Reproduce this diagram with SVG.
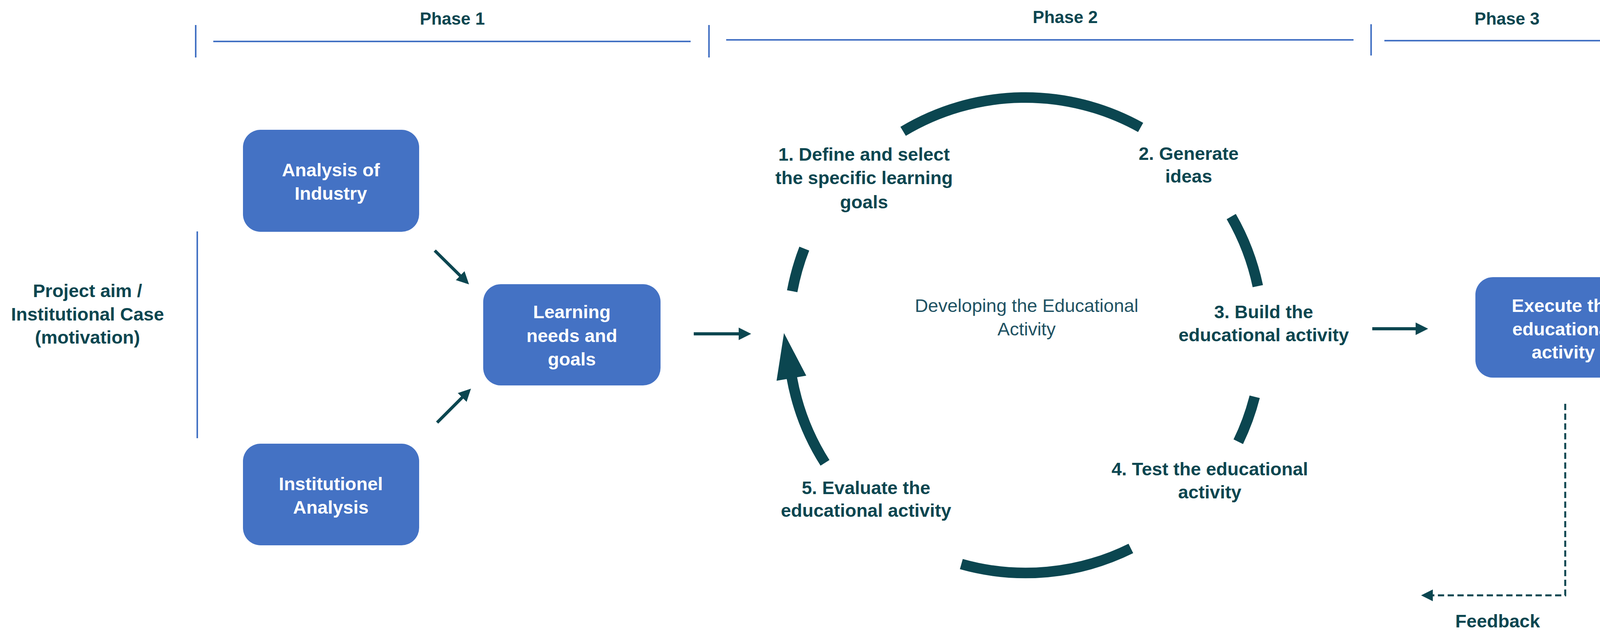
<svg xmlns="http://www.w3.org/2000/svg" width="4249" height="1627" viewBox="0 0 4249 1627">
<style>
.box{fill:#4472C4}
.bt{font-family:"Liberation Sans",Arial,sans-serif;font-weight:bold;font-size:47px;fill:#fff;text-anchor:middle;dominant-baseline:central}
.lt{font-family:"Liberation Sans",Arial,sans-serif;font-weight:bold;font-size:47px;fill:#0B4650;text-anchor:middle;dominant-baseline:central}
.ph{font-family:"Liberation Sans",Arial,sans-serif;font-weight:bold;font-size:44px;fill:#0B4650;text-anchor:middle;dominant-baseline:central}
.nt{font-family:"Liberation Sans",Arial,sans-serif;font-size:47px;fill:#1F5263;text-anchor:middle;dominant-baseline:central}
.bl{stroke:#4472C4;stroke-width:4;fill:none}
.ar{stroke:#0B4650;stroke-width:8;fill:none}
.arc{stroke:#0B4650;stroke-width:27;fill:none}
</style>
<defs>
<marker id="ah" markerWidth="4" markerHeight="4" refX="3" refY="2" orient="auto" markerUnits="strokeWidth"><path d="M0,0 L4,2 L0,4 Z" fill="#0B4650"/></marker>
<marker id="ahd" markerWidth="6" markerHeight="6" refX="4" refY="3" orient="auto" markerUnits="strokeWidth"><path d="M0,0 L6,3 L0,6 Z" fill="#0B4650"/></marker>
</defs>
<g id="phases">
<text class="ph" x="1158" y="47">Phase 1</text>
<text class="ph" x="2727" y="43">Phase 2</text>
<text class="ph" x="3858" y="47">Phase 3</text>
<path class="bl" d="M501,64 V147 M1815,64 V147 M3510,62 V142 M4211,60 V140"/>
<path class="bl" d="M546,106 H1768 M1859,102 H3465 M3544,104 H4167"/>
<path class="bl" d="M505,592 V1121"/>
</g>
<g id="project-aim">
<text class="lt" x="224" y="743">Project aim  /</text>
<text class="lt" x="224" y="803">Institutional Case</text>
<text class="lt" x="224" y="862">(motivation)</text>
</g>
<g id="analysis-industry">
<rect class="box" x="622" y="332" width="451" height="261" rx="45"/>
<text class="bt" x="847" y="434">Analysis  of</text>
<text class="bt" x="847" y="494">Industry</text>
</g>
<g id="institutionel-analysis">
<rect class="box" x="622" y="1135" width="451" height="260" rx="45"/>
<text class="bt" x="847" y="1237">Institutionel</text>
<text class="bt" x="847" y="1297">Analysis</text>
</g>
<g id="learning-needs">
<rect class="box" x="1237" y="727" width="454" height="259" rx="45"/>
<text class="bt" x="1464" y="797">Learning</text>
<text class="bt" x="1464" y="858">needs and</text>
<text class="bt" x="1464" y="918">goals</text>
</g>
<g id="execute">
<rect class="box" x="3777" y="709" width="451" height="257" rx="45"/>
<text class="bt" x="4002" y="781">Execute the</text>
<text class="bt" x="4002" y="841">educational</text>
<text class="bt" x="4002" y="900">activity</text>
</g>
<g id="cycle">
<path class="arc" d="M2312,336 A608,608 0 0 1 2920,326"/>
<path class="arc" d="M3152,554 A608,608 0 0 1 3220,732"/>
<path class="arc" d="M3212,1015 A608,608 0 0 1 3170,1130"/>
<path class="arc" d="M2895,1403 A608,608 0 0 1 2461,1443"/>
<path class="arc" d="M2112,1184 A608,608 0 0 1 2027,966"/>
<polygon points="2007,852 1988,974 2064,961" fill="#0B4650"/>
<path class="arc" d="M2059,636 A608,608 0 0 0 2028,745"/>
<text class="nt" x="2628" y="781">Developing the Educational</text>
<text class="nt" x="2628" y="841">Activity</text>
</g>
<g id="step1"><text class="lt" x="2212" y="394">1. Define and select</text><text class="lt" x="2212" y="454">the specific learning</text><text class="lt" x="2212" y="516">goals</text></g>
<g id="step2"><text class="lt" x="3043" y="392">2. Generate</text><text class="lt" x="3043" y="450">ideas</text></g>
<g id="step3"><text class="lt" x="3235" y="797">3. Build the</text><text class="lt" x="3235" y="856">educational activity</text></g>
<g id="step4"><text class="lt" x="3097" y="1199">4. Test the educational</text><text class="lt" x="3097" y="1258">activity</text></g>
<g id="step5"><text class="lt" x="2217" y="1247">5. Evaluate the</text><text class="lt" x="2217" y="1305">educational activity</text></g>
<g id="feedback"><text class="lt" x="3834" y="1588">Feedback</text></g>
<g id="connectors">
<line class="ar" x1="1113" y1="641" x2="1195" y2="722" marker-end="url(#ah)"/>
<line class="ar" x1="1119" y1="1081" x2="1200" y2="1000" marker-end="url(#ah)"/>
<line class="ar" x1="1776" y1="854" x2="1915" y2="854" marker-end="url(#ah)"/>
<line class="ar" x1="3513" y1="841" x2="3648" y2="841" marker-end="url(#ah)"/>
<path d="M4007,1033 V1523 H3648" fill="none" stroke="#0B4650" stroke-width="5" stroke-dasharray="16,9" marker-end="url(#ahd)"/>
</g>
</svg>
